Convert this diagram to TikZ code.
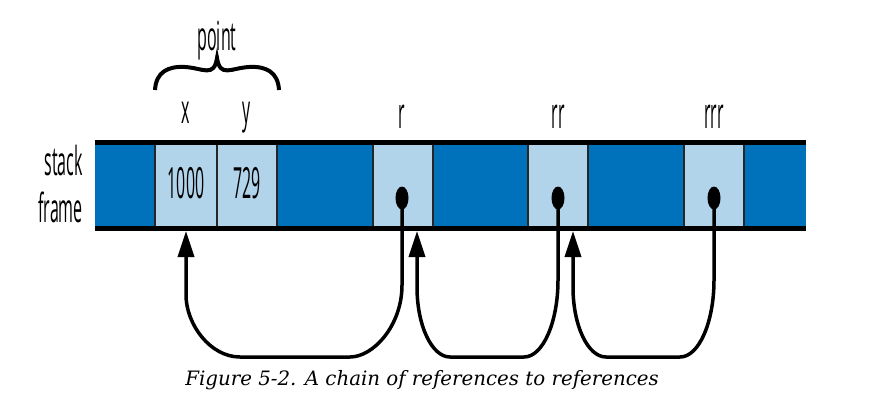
\documentclass[tikz,border=0pt]{standalone}
\usepackage{fontspec}
\usepackage{tikz}
\usetikzlibrary{arrows.meta}
\usetikzlibrary{shapes.geometric}
\newfontfamily\labelfont[FakeStretch=0.4]{Open Sans}
\newfontfamily\numfont[FakeStretch=0.37]{Open Sans}
\newfontfamily\capfont{DejaVu Serif}
\definecolor{framedark}{RGB}{0,113,187}
\definecolor{framelight}{RGB}{178,212,234}

\begin{document}
\begin{tikzpicture}[x=1pt, y=-1pt,
        cell/.style={inner sep=0pt, minimum height=85pt},
        lbl/.style={font=\labelfont\fontsize{40}{40}\selectfont, anchor=base, inner sep=0pt},
        num/.style={font=\numfont\fontsize{43}{43}\selectfont, anchor=base, inner sep=0pt},
        ptr/.style={line width=3.5pt, -{Triangle[length=26pt,width=16pt]}},
        dot/.style={ellipse, fill, inner sep=0pt, minimum width=13pt, minimum height=23pt}]
        \useasboundingbox (0,0) rectangle (882,410);
        % stack frame cells
        \foreach \xa/\xb/\c/\n in {95/155/framedark/c0, 155/217/framelight/px, 217/277/framelight/py,
                277/373/framedark/c1, 373/433/framelight/r, 433/528/framedark/c2, 528/588/framelight/rr,
                588/684/framedark/c3, 684/744/framelight/rrr, 744/806/framedark/c4}
            \node [cell, fill=\c, minimum width=\xb pt-\xa pt] (\n) at ({(\xa+\xb)/2}, 185.5) {};
        \foreach \x in {155,217,277,373,433,528,588,684,744}
            \draw [line width=2pt, black!85] (\x, 143) -- (\x, 228);
        \draw [line width=5pt] (c0.north west) -- (c4.north east);
        \draw [line width=5pt] (c0.south west) -- (c4.south east);
        % labels
        \node [lbl, anchor=base east] (stack) at (83, 175) {stack};
        \node [lbl, anchor=base east] (frame) at (83, 222) {frame};
        \node [lbl] (point) at (217, 50) {point};
        \node [lbl] (xlbl) at (186, 123) {x};
        \node [lbl] (ylbl) at (247, 123) {y};
        \node [num] (rlbl) at (402, 128) {r};
        \node [num] (rrlbl) at (558, 128) {rr};
        \node [num] (rrrlbl) at (714, 128) {rrr};
        \node [num] (xval) at (186, 198) {1000};
        \node [num] (yval) at (247, 198) {729};
        % brace over point
        \draw [line width=4pt] (155, 90) .. controls (156, 72) and (168, 66) .. (185, 67)
            .. controls (203, 68) and (214, 78) .. (217, 58)
            .. controls (220, 78) and (231, 68) .. (249, 67)
            .. controls (266, 66) and (278, 72) .. (279, 90);
        % references
        \node [dot] (dr) at (402, 198) {};
        \node [dot] (drr) at (558, 198) {};
        \node [dot] (drrr) at (714, 198) {};
        \coordinate (tpx) at (186, 231);
        \coordinate (tr) at (417, 231);
        \coordinate (trr) at (573, 231);
        \draw [ptr] (dr.center) -- (402, 285) .. controls (402, 326) and (373, 357) .. (350, 357)
            -- (240, 357) .. controls (210, 357) and (186, 324) .. (186, 295) -- (tpx);
        \draw [ptr] (drr.center) -- (558, 280) .. controls (558, 322) and (543, 357) .. (524, 357)
            -- (450, 357) .. controls (432, 357) and (417, 326) .. (417, 287) -- (tr);
        \draw [ptr] (drrr.center) -- (714, 280) .. controls (714, 322) and (699, 357) .. (680, 357)
            -- (606, 357) .. controls (588, 357) and (573, 326) .. (573, 287) -- (trr);
        \node [font=\capfont\itshape\fontsize{19.8}{22}\selectfont, anchor=base] (caption) at (422, 385)
            {Figure 5-2. A chain of references to references};
    \end{tikzpicture}
\end{document}
